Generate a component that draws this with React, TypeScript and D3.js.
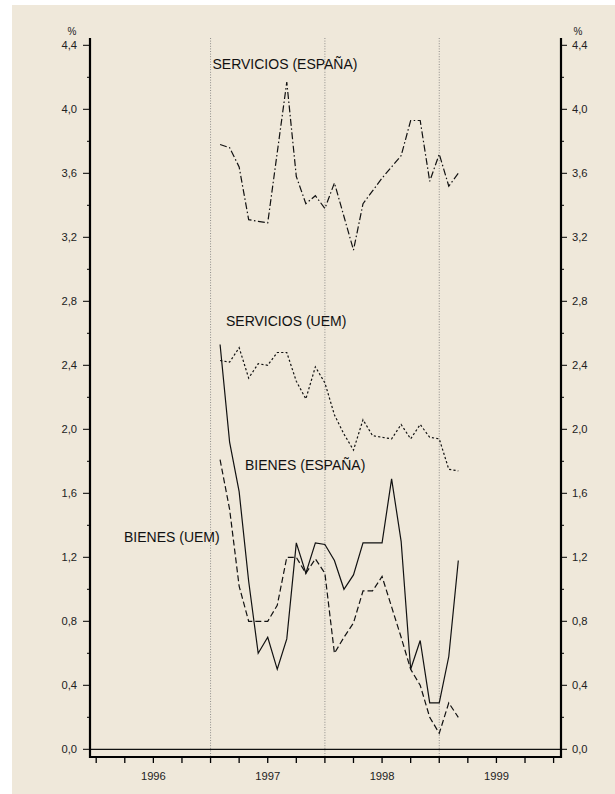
import { useMemo } from 'react'
import * as d3 from 'd3'

// monthly values, Jan 1997 .. Feb 1999 (plotted at month end)
const months = d3.range(26).map((i) => 1997 + (i + 1) / 12)

const serviciosEspana = [3.78, 3.76, 3.64, 3.31, 3.3, 3.29, 3.73, 4.17, 3.58, 3.41, 3.46, 3.38, 3.54, 3.33, 3.12, 3.41, 3.49, 3.57, 3.64, 3.71, 3.93, 3.93, 3.55, 3.72, 3.52, 3.6]
const serviciosUem = [2.43, 2.42, 2.51, 2.32, 2.41, 2.4, 2.48, 2.48, 2.3, 2.19, 2.39, 2.29, 2.09, 1.97, 1.87, 2.06, 1.96, 1.95, 1.94, 2.03, 1.94, 2.03, 1.95, 1.94, 1.75, 1.74]
const bienesEspana = [2.53, 1.92, 1.61, 1.05, 0.6, 0.7, 0.5, 0.69, 1.29, 1.1, 1.29, 1.28, 1.18, 1.0, 1.09, 1.29, 1.29, 1.29, 1.69, 1.3, 0.5, 0.68, 0.29, 0.29, 0.58, 1.18]
const bienesUem = [1.81, 1.5, 1.02, 0.8, 0.8, 0.8, 0.9, 1.2, 1.2, 1.1, 1.19, 1.1, 0.6, 0.7, 0.79, 0.99, 0.99, 1.08, 0.89, 0.7, 0.5, 0.4, 0.2, 0.1, 0.29, 0.2]

const years = [1996, 1997, 1998, 1999]
const yTicks = [0, 0.4, 0.8, 1.2, 1.6, 2.0, 2.4, 2.8, 3.2, 3.6, 4.0, 4.4]
const yMinor = [0.2, 0.6, 1.0, 1.4, 1.8, 2.2, 2.6, 3.0, 3.4, 3.8, 4.2]
const dividers = [1997, 1998, 1999]

const series = [
  { name: 'SERVICIOS (ESPAÑA)', values: serviciosEspana, dash: '7,2.5,1.5,2.5', label: [212.5, 69] },
  { name: 'SERVICIOS (UEM)', values: serviciosUem, dash: '2.2,2.2', label: [226, 326] },
  { name: 'BIENES (ESPAÑA)', values: bienesEspana, dash: null, label: [245, 470] },
  { name: 'BIENES (UEM)', values: bienesUem, dash: '6,3', label: [124, 542] },
]

const W = 615
const H = 794
const BG = '#efe8da'
const FONT = '"Liberation Sans", Arial, Helvetica, sans-serif'

export default function App() {
  const left = 90
  const right = 561
  const top = 38
  const bottom = 757

  const x = useMemo(() => d3.scaleLinear().domain([1996, 2000]).range([96.2, 553.6]), [])
  const y = useMemo(() => d3.scaleLinear().domain([0, 4.4]).range([749.3, 45.3]), [])
  const line = d3.line<number>().x((_, i) => x(months[i])).y((d) => y(d))
  const quarters = d3.range(17).map((i) => 1996 + i / 4)

  const fmt = (v: number) => v.toFixed(1).replace('.', ',')

  return (
    <svg width={W} height={H} style={{ position: 'absolute', left: 0, top: 0, display: 'block' }} fontFamily={FONT}>
      <rect x={0} y={0} width={W} height={H} fill="#ffffff" />
      <rect x={12} y={5} width={W - 12} height={H - 5} fill={BG} />

      {/* year dividers */}
      {dividers.map((d) => (
        <line key={d} x1={x(d)} x2={x(d)} y1={top} y2={bottom} stroke="#777" strokeWidth={0.8} strokeDasharray="1,1.6" />
      ))}

      {/* zero line */}
      <line x1={left} x2={right} y1={y(0)} y2={y(0)} stroke="#111" strokeWidth={1.2} />

      {/* axes */}
      <line x1={left} x2={left} y1={top} y2={bottom + 1} stroke="#000" strokeWidth={2.2} />
      <line x1={right} x2={right} y1={top} y2={bottom + 1} stroke="#000" strokeWidth={2.2} />
      <line x1={left} x2={right} y1={bottom} y2={bottom} stroke="#000" strokeWidth={2.2} />

      {yTicks.map((t) => (
        <g key={t}>
          <line x1={left - 7} x2={left} y1={y(t)} y2={y(t)} stroke="#000" strokeWidth={1} />
          <line x1={right} x2={right + 6} y1={y(t)} y2={y(t)} stroke="#000" strokeWidth={1} />
          <text x={left - 13} y={y(t)} dy="0.36em" textAnchor="end" fontSize={11.2} fill="#222">{fmt(t)}</text>
          <text x={right + 11} y={y(t)} dy="0.36em" textAnchor="start" fontSize={11.2} fill="#222">{fmt(t)}</text>
        </g>
      ))}
      {yMinor.map((t) => (
        <g key={t}>
          <line x1={left - 3} x2={left} y1={y(t)} y2={y(t)} stroke="#000" strokeWidth={1} />
          <line x1={right} x2={right + 3} y1={y(t)} y2={y(t)} stroke="#000" strokeWidth={1} />
        </g>
      ))}
      <text x={72} y={35} textAnchor="middle" fontSize={10} fill="#222">%</text>
      <text x={578} y={35} textAnchor="middle" fontSize={10} fill="#222">%</text>

      {quarters.map((q) => (
        <line key={q} x1={x(q)} x2={x(q)} y1={bottom} y2={bottom + 6} stroke="#000" strokeWidth={1.3} />
      ))}
      {years.map((yr) => (
        <text key={yr} x={x(yr + 0.5)} y={780} textAnchor="middle" fontSize={11.2} fill="#222">{yr}</text>
      ))}

      {series.map((s) => (
        <path key={s.name} d={line(s.values) ?? ''} fill="none" stroke="#111" strokeWidth={1.2} strokeDasharray={s.dash ?? undefined} />
      ))}
      {series.map((s) => (
        <text key={s.name + '-l'} x={s.label[0]} y={s.label[1]} fontSize={14} fill="#111">{s.name}</text>
      ))}
    </svg>
  )
}
